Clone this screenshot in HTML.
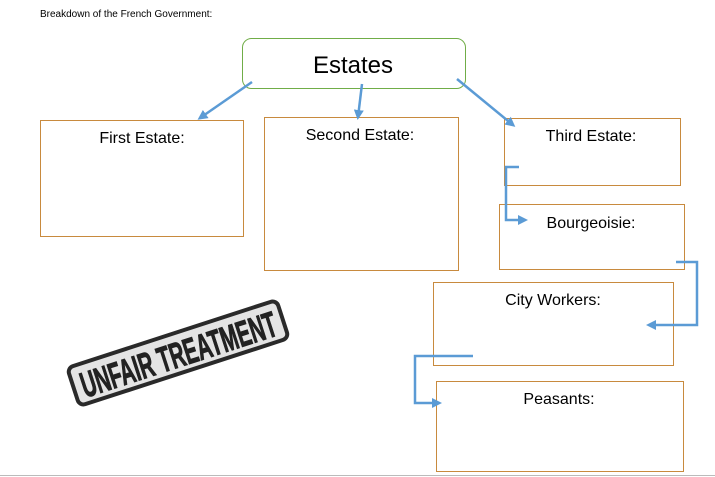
<!DOCTYPE html>
<html><head><style>
html,body{margin:0;padding:0;background:#fff;}
svg{display:block;}
text{font-family:"Liberation Sans",sans-serif;}
</style></head><body>
<svg width="715" height="477" viewBox="0 0 715 477" xmlns="http://www.w3.org/2000/svg">
<defs>
<marker id="ah" markerWidth="10" markerHeight="10" refX="7" refY="5" orient="auto" markerUnits="userSpaceOnUse">
<path d="M0,0 L10,5 L0,10 Z" fill="#5b9bd5"/>
</marker>
</defs>
<text x="40" y="17" font-size="10" fill="#000">Breakdown of the French Government:</text>
<rect x="242.5" y="38.5" width="223" height="50" rx="9" fill="#fff" stroke="#70ad47" stroke-width="1"/>
<text x="353" y="73" font-size="24" text-anchor="middle">Estates</text>
<g fill="none" stroke="#c88a3e" stroke-width="1">
<rect x="40.5" y="120.5" width="203" height="116"/>
<rect x="264.5" y="117.5" width="194" height="153"/>
<rect x="504.5" y="118.5" width="176" height="67"/>
<rect x="499.5" y="204.5" width="185" height="65"/>
<rect x="433.5" y="282.5" width="240" height="83"/>
<rect x="436.5" y="381.5" width="247" height="90"/>
</g>
<g font-size="16" text-anchor="middle" fill="#000">
<text x="142" y="143">First Estate:</text>
<text x="360" y="140">Second Estate:</text>
<text x="591" y="141">Third Estate:</text>
<text x="591" y="228">Bourgeoisie:</text>
<text x="553" y="305">City Workers:</text>
<text x="559" y="404">Peasants:</text>
</g>
<g fill="none" stroke="#5b9bd5" stroke-width="2.5" marker-end="url(#ah)">
<path d="M252,82 L200,118"/>
<path d="M362,84 L358,117"/>
<path d="M457,79 L513,125"/>
<path d="M519,167 L506,167 L506,220 L525,220"/>
<path d="M676,262 L697,262 L697,325 L649,325"/>
<path d="M473,356 L415,356 L415,403 L439,403"/>
</g>
<line x1="0" y1="475.5" x2="715" y2="475.5" stroke="#bbb" stroke-width="1"/>
<g transform="translate(178,353) rotate(-18)">
<rect x="-110" y="-20" width="220" height="40" rx="6" fill="#e4e4e4" stroke="#2a2a2a" stroke-width="4"/>
<text x="0" y="14" font-size="36" font-weight="bold" text-anchor="middle" fill="#222" stroke="#222" stroke-width="1" textLength="204" lengthAdjust="spacingAndGlyphs" style="font-family:'Liberation Sans Narrow','Liberation Sans',sans-serif">UNFAIR TREATMENT</text>
</g>
</svg>
</body></html>
